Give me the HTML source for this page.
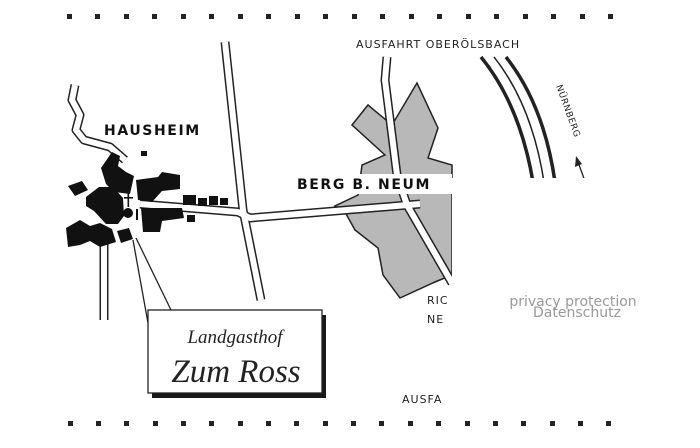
<!DOCTYPE html>
<html><head><meta charset="utf-8"><style>
html,body{margin:0;padding:0;background:#fff;}
svg{display:block;}
.cap{font-family:"DejaVu Sans","Liberation Sans",sans-serif;fill:#222;}
.lbl{font-family:"DejaVu Sans","Liberation Sans",sans-serif;font-weight:bold;fill:#111;}
</style></head><body>
<svg width="700" height="448" viewBox="0 0 700 448" xmlns="http://www.w3.org/2000/svg">
<rect width="700" height="448" fill="#fff"/>
<g fill="#222">
<rect x="67" y="14" width="5" height="5"/><rect x="95" y="14" width="5" height="5"/><rect x="124" y="14" width="5" height="5"/><rect x="152" y="14" width="5" height="5"/><rect x="181" y="14" width="5" height="5"/><rect x="209" y="14" width="5" height="5"/><rect x="238" y="14" width="5" height="5"/><rect x="266" y="14" width="5" height="5"/><rect x="295" y="14" width="5" height="5"/><rect x="323" y="14" width="5" height="5"/><rect x="352" y="14" width="5" height="5"/><rect x="380" y="14" width="5" height="5"/><rect x="409" y="14" width="5" height="5"/><rect x="437" y="14" width="5" height="5"/><rect x="466" y="14" width="5" height="5"/><rect x="494" y="14" width="5" height="5"/><rect x="523" y="14" width="5" height="5"/><rect x="551" y="14" width="5" height="5"/><rect x="580" y="14" width="5" height="5"/><rect x="608" y="14" width="5" height="5"/>
<rect x="68" y="421" width="5" height="5"/><rect x="96" y="421" width="5" height="5"/><rect x="124" y="421" width="5" height="5"/><rect x="153" y="421" width="5" height="5"/><rect x="181" y="421" width="5" height="5"/><rect x="209" y="421" width="5" height="5"/><rect x="238" y="421" width="5" height="5"/><rect x="266" y="421" width="5" height="5"/><rect x="294" y="421" width="5" height="5"/><rect x="323" y="421" width="5" height="5"/><rect x="351" y="421" width="5" height="5"/><rect x="379" y="421" width="5" height="5"/><rect x="408" y="421" width="5" height="5"/><rect x="436" y="421" width="5" height="5"/><rect x="465" y="421" width="5" height="5"/><rect x="493" y="421" width="5" height="5"/><rect x="521" y="421" width="5" height="5"/><rect x="550" y="421" width="5" height="5"/><rect x="578" y="421" width="5" height="5"/><rect x="606" y="421" width="5" height="5"/>
</g>
<polygon points="352,125 368,105 392,125 417,83 438,128 428,158 452,165 452,275 435,282 400,298 383,275 378,248 355,230 345,212 335,206 358,195 362,165 385,155" fill="#b8b8b8" stroke="#222" stroke-width="1.5"/>
<g fill="none" stroke-linejoin="round">
<g stroke="#222" stroke-width="9">
<path d="M387,57 L385,80 L397,175 L407,205 L452,283"/>
<path d="M225,42 L243,210 L261,300"/>
<path d="M140,204 L238,212 L250,218 L420,204"/>
<path d="M75,85 L72,100 L80,115 L76,130 L84,140 L110,147 L125,160"/>
<path d="M104,232 L104,320"/>
</g>
<g stroke="#fff" stroke-width="6">
<path d="M387,57 L385,80 L397,175 L407,205 L452,283"/>
<path d="M225,42 L243,210 L261,300"/>
<path d="M140,204 L238,212 L250,218 L420,204"/>
<path d="M75,85 L72,100 L80,115 L76,130 L84,140 L110,147 L125,160"/>
<path d="M104,232 L104,320"/>
</g>
</g>
<g fill="#111">
<polygon points="101,168 112,152 120,156 118,166 126,172 134,176 130,194 114,192 106,184"/>
<polygon points="136,180 158,177 162,172 180,175 180,189 162,191 152,202 138,200"/>
<rect x="183" y="195" width="13" height="10"/><rect x="198" y="198" width="9" height="8"/><rect x="209" y="196" width="9" height="9"/><rect x="220" y="198" width="8" height="7"/>
<polygon points="141,208 182,208 184,218 162,221 160,232 143,232"/>
<rect x="187" y="215" width="8" height="7"/>
<polygon points="68,186 82,181 88,190 75,196"/>
<polygon points="86,197 99,187 113,187 123,198 124,216 118,224 106,224 94,211 86,206"/>
<polygon points="66,228 80,220 90,226 100,223 112,229 116,242 100,247 90,241 80,245 68,247"/>
<rect x="141" y="151" width="6" height="5"/>
<polygon points="117,231 129,228 133,239 121,243"/>
<circle cx="128" cy="213" r="5"/>
<rect x="127.5" y="193" width="1.6" height="14"/><rect x="124" y="197" width="9" height="1.6"/>
<rect x="136" y="209" width="2" height="11"/>
</g>
<g fill="none" stroke="#222">
<path d="M481,57 Q520,105 533,182" stroke-width="3.5"/>
<path d="M494,57 Q532,105 544,182" stroke-width="1.5"/>
<path d="M506,57 Q544,105 555,182" stroke-width="3.5"/>
<path d="M586,184 L578,162" stroke-width="1.3"/>
</g>
<polygon points="576,156 575,167 582,164" fill="#222"/>
<text class="cap" x="0" y="0" font-size="9" letter-spacing="0.5" transform="translate(556,86) rotate(70)">NÜRNBERG</text>
<rect x="452" y="178" width="248" height="232" fill="#fff"/>
<rect x="295" y="174" width="157" height="20" fill="#fff"/>
<text class="lbl" x="297" y="189" font-size="14" letter-spacing="1.6">BERG B. NEUM</text>
<text class="lbl" x="104" y="135" font-size="14" letter-spacing="1.6">HAUSHEIM</text>
<text class="cap" x="356" y="48" font-size="11" letter-spacing="1">AUSFAHRT OBERÖLSBACH</text>
<text class="cap" x="427" y="304" font-size="11" letter-spacing="1">RIC</text>
<text class="cap" x="427" y="323" font-size="11" letter-spacing="1">NE</text>
<text class="cap" x="402" y="403" font-size="11" letter-spacing="1">AUSFA</text>
<path d="M136,238 L171,310 M133,240 L148,323" stroke="#222" stroke-width="1.3" fill="none"/>
<rect x="152" y="315" width="174" height="83" fill="#1a1a1a"/>
<rect x="148" y="310" width="174" height="83" fill="#fff" stroke="#222" stroke-width="1.3"/>
<text x="235" y="343" text-anchor="middle" font-family="'Liberation Serif',serif" font-style="italic" font-size="19" fill="#222">Landgasthof</text>
<text x="236" y="382" text-anchor="middle" font-family="'Liberation Serif',serif" font-style="italic" font-size="33" fill="#222">Zum Ross</text>
<text x="573" y="306" text-anchor="middle" font-family="'DejaVu Sans',sans-serif" font-size="14" fill="#999">privacy protection</text>
<text x="577" y="317" text-anchor="middle" font-family="'DejaVu Sans',sans-serif" font-size="14" fill="#999">Datenschutz</text>
</svg>
</body></html>
